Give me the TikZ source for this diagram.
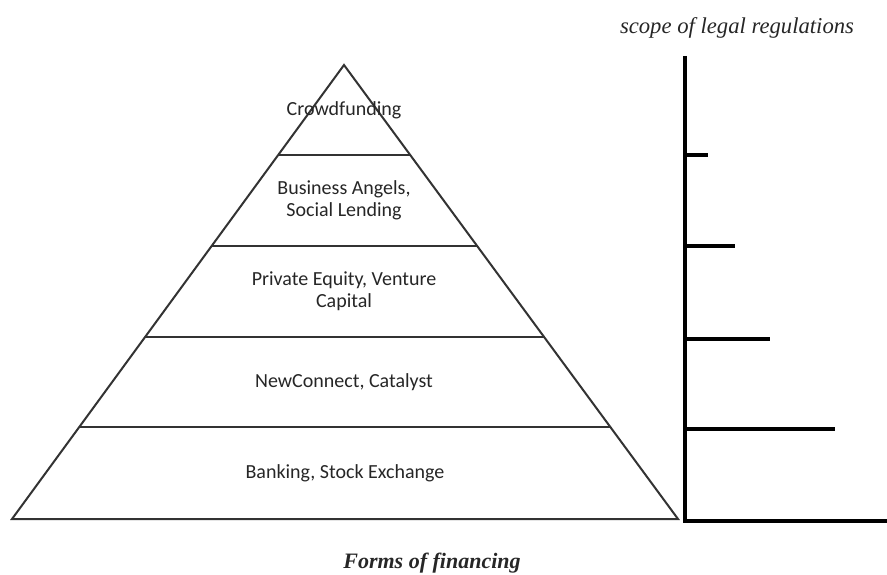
\documentclass[tikz,border=0pt]{standalone}
\usepackage{fontspec}
\setmainfont{Carlito}
\newfontfamily\headfont{Liberation Serif}
\usetikzlibrary{calc}
\tikzset{
  tier/.style={draw=black!80, line width=1.5pt},
  tiertext/.style={align=center, text=black!85, font=\fontsize{15}{16.5}\selectfont},
  axisline/.style={draw=black, line width=2.6pt},
  scopetitle/.style={text=black!85, font=\headfont\itshape\fontsize{17}{20}\selectfont},
  formstitle/.style={text=black!85, font=\headfont\bfseries\itshape\fontsize{16.5}{20}\selectfont},
}

\begin{document}
\begin{tikzpicture}[x=0.75pt, y=-0.75pt]
  \useasboundingbox (0,0) rectangle (887,574);

  % pyramid
  \coordinate (apex) at (344,65);
  \coordinate (bl) at (12,519);
  \coordinate (br) at (678,519);
  \draw[tier] (apex) -- (bl) -- (br) -- cycle;
  \foreach \y in {155, 246, 337, 427} {
    \draw[tier] ($(apex)!{(\y-65)/454}!(bl)$) -- ($(apex)!{(\y-65)/454}!(br)$);
  }

  \node[tiertext] (crowd) at (344,110) {Crowdfunding};
  \node[tiertext] (angels) at (344,200) {Business Angels,\\Social Lending};
  \node[tiertext] (equity) at (344,291) {Private Equity, Venture\\Capital};
  \node[tiertext] (newconnect) at (344,382) {NewConnect, Catalyst};
  \node[tiertext] (banking) at (345,473) {Banking, Stock Exchange};

  % scope axis
  \coordinate (axistop) at (685,56);
  \coordinate (axiscorner) at (685,521);
  \coordinate (axisend) at (887,521);
  \draw[axisline] (axistop) -- (axiscorner) -- (axisend);
  \foreach \y/\len in {155/708, 246/735, 339/770, 429/835} {
    \draw[axisline] (685,\y) -- (\len,\y);
  }

  \node[scopetitle] (scope) at (737,28) {scope of legal regulations};
  \node[formstitle] (forms) at (432,563) {Forms of financing};
\end{tikzpicture}
\end{document}
